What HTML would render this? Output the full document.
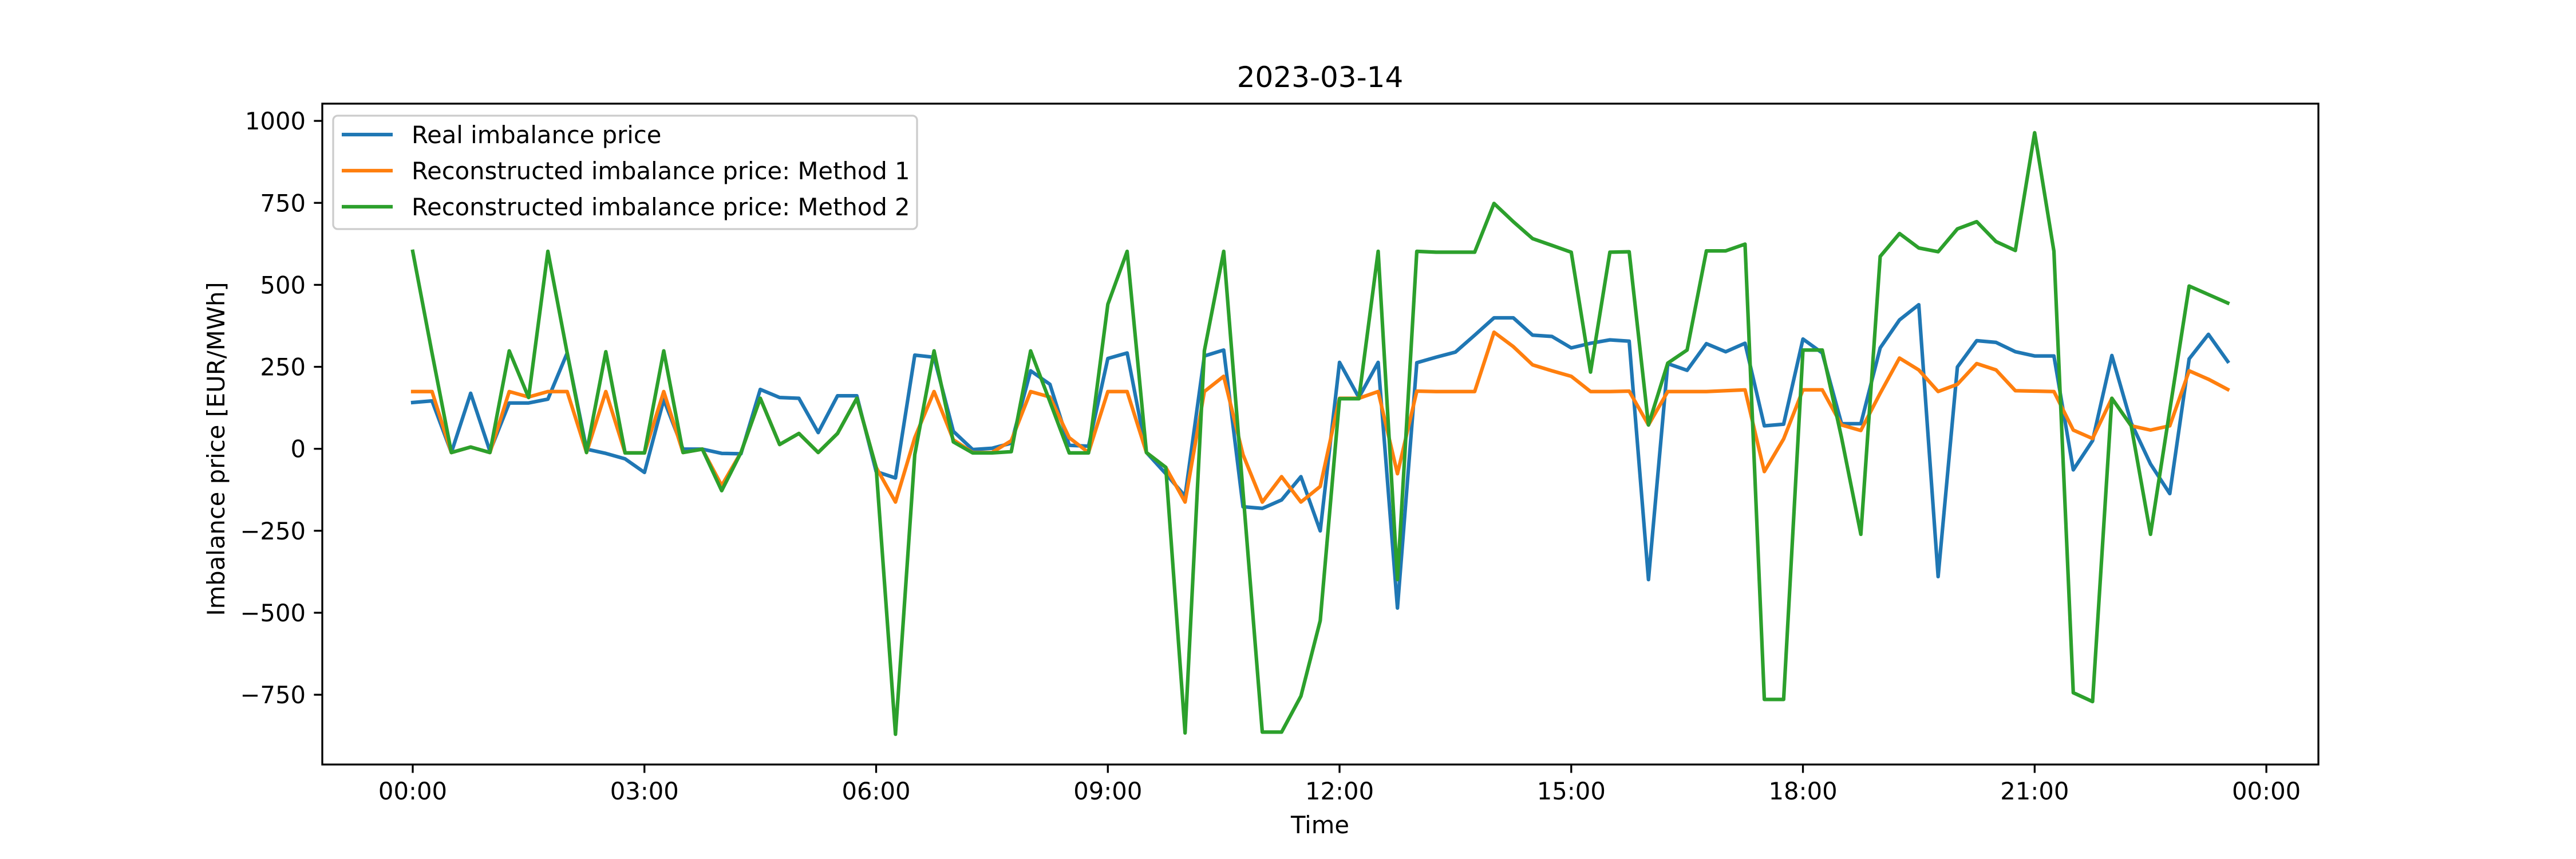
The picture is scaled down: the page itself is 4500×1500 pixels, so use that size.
<!DOCTYPE html>
<html><head><meta charset="utf-8"><style>
html,body{margin:0;padding:0;background:#fff;overflow:hidden}
svg{display:block}
text{font-family:"DejaVu Sans","Liberation Sans",sans-serif;fill:#000}
</style></head><body>
<svg id="s" width="4500" height="1500" xmlns="http://www.w3.org/2000/svg"></svg>
<script>
const B=[707,703,825,685,822,708,708,699,590,817,827,840,872,700,817,817,827,828,676,695,697,778,691,691,870,885,595,600,775,818,815,803,632,664,808,810,603,590,825,875,928,597,583,953,957,937,882,1010,612,695,612,1192,613,600,588,548,507,507,548,551,578,567,559,562,1125,615,631,568,587,567,762,758,557,590,757,757,578,512,476,1118,623,561,565,587,597,597,866,797,596,755,852,922,604,546,610];
const O=[681,681,825,812,825,681,694,681,681,825,681,826,826,681,825,817,903,825,697,806,780,825,780,697,860,942,790,681,795,825,825,797,681,694,790,825,681,681,825,860,942,681,645,830,942,882,942,905,697,697,681,875,680,681,681,681,541,575,618,632,645,681,681,680,760,681,681,681,679,677,870,793,677,677,760,773,685,602,630,681,664,615,630,679,680,681,772,792,697,762,772,762,632,652,676];
const G=[350,590,825,812,825,585,695,350,590,825,587,826,826,585,825,817,915,825,697,806,780,825,780,697,860,1490,830,585,800,826,826,823,585,705,826,826,475,350,825,860,1487,585,350,918,1485,1485,1400,1222,698,698,350,1125,350,352,352,352,237,280,320,336,352,635,352,351,760,614,583,349,349,333,1408,1408,583,583,790,1018,362,308,342,351,297,280,327,348,70,350,1392,1413,697,762,1018,725,432,452,472];
const L=563,R=4050,T=181,Bt=1335;
const X=i=>721+33.73*i, Yv=v=>783.7-0.5726*v;
let h='';
const pl=(a,c)=>'<polyline fill="none" stroke="'+c+'" stroke-width="6.25" stroke-linejoin="round" stroke-linecap="square" points="'+a.map((z,i)=>X(i).toFixed(1)+','+(180+z/1.352).toFixed(1)).join(' ')+'"/>';
h+=pl(B,'#1f77b4')+pl(O,'#ff7f0e')+pl(G,'#2ca02c');
for(let v=-750;v<=1000;v+=250){const y=Yv(v);h+='<line x1="'+(L-14.6)+'" x2="'+L+'" y1="'+y+'" y2="'+y+'" stroke="#000" stroke-width="3.3"/>';
h+='<text x="'+(L-29)+'" y="'+(y+15)+'" font-size="41.7" text-anchor="end">'+(v<0?'\u2212'+(-v):v)+'</text>';}
const lab=['00:00','03:00','06:00','09:00','12:00','15:00','18:00','21:00','00:00'];
for(let k=0;k<9;k++){const x=X(12*k);h+='<line x1="'+x+'" x2="'+x+'" y1="'+Bt+'" y2="'+(Bt+14.6)+'" stroke="#000" stroke-width="3.3"/>';
h+='<text x="'+x+'" y="'+(Bt+61)+'" font-size="41.7" text-anchor="middle">'+lab[k]+'</text>';}
h+='<rect x="'+L+'" y="'+T+'" width="'+(R-L)+'" height="'+(Bt-T)+'" fill="none" stroke="#000" stroke-width="3.3"/>';
h+='<text x="2306" y="152" font-size="50" text-anchor="middle">2023-03-14</text>';
h+='<text x="2306" y="1455" font-size="41.7" text-anchor="middle">Time</text>';
h+='<text transform="translate(392,784) rotate(-90)" font-size="41.7" text-anchor="middle">Imbalance price [EUR/MWh]</text>';
h+='<rect x="582" y="202" width="1020" height="198" rx="8" fill="#fff" fill-opacity="0.8" stroke="#ccc" stroke-width="3.3"/>';
const ln=[['Real imbalance price','#1f77b4'],['Reconstructed imbalance price: Method 1','#ff7f0e'],['Reconstructed imbalance price: Method 2','#2ca02c']];
ln.forEach((e,j)=>{const y=235+j*63;h+='<line x1="597" x2="686" y1="'+y+'" y2="'+y+'" stroke="'+e[1]+'" stroke-width="6.25"/>';
h+='<text x="719" y="'+(y+15)+'" font-size="41.7">'+e[0]+'</text>';});
document.getElementById('s').innerHTML=h;
</script>
</body></html>
